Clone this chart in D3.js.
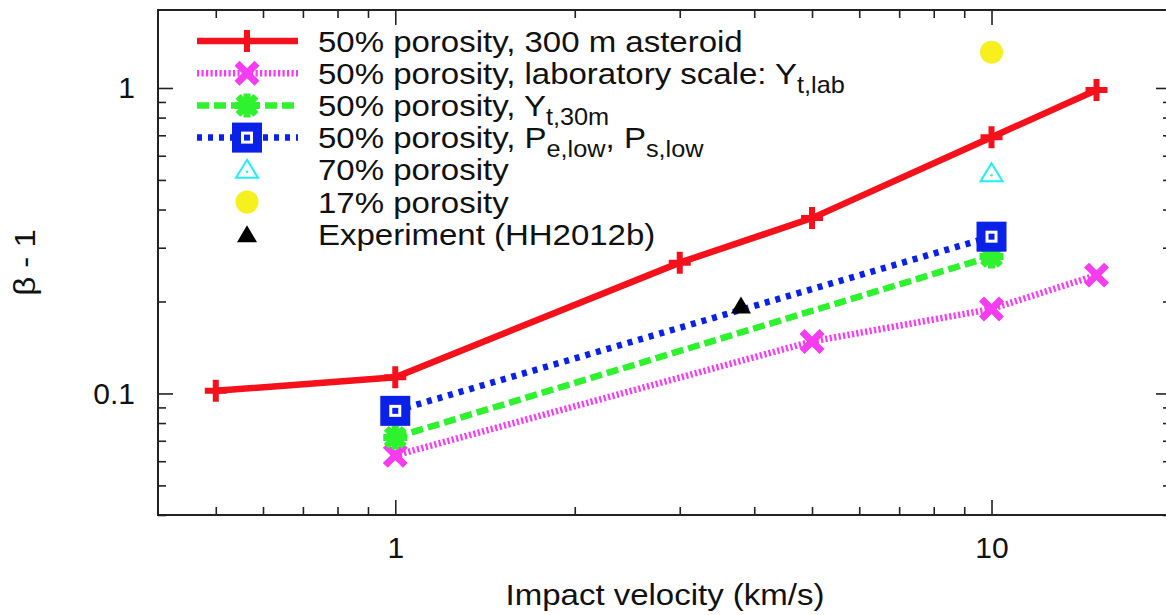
<html>
<head>
<meta charset="utf-8">
<style type="text/css">
  body { margin: 0; background: #fff; overflow: hidden; }
  text { font-family: "Liberation Sans", Arial, sans-serif; fill: #111; }
</style>
</head>
<body>
<script src="https://cdn.jsdelivr.net/npm/d3@7"></script>
<script>
// data
var velAsteroid = [0.5, 1, 3, 5, 10, 15];
var betaAsteroid = [0.102, 0.113, 0.268, 0.375, 0.69, 0.985];
var velLab = [1, 5, 10, 15];
var betaLab = [0.0627, 0.148, 0.189, 0.244];
var velY30 = [1, 10];
var betaY30 = [0.0718, 0.281];
var velPlow = [1, 10];
var betaPlow = [0.0877, 0.326];
var vel70 = [10], beta70 = [0.526];
var vel17 = [10], beta17 = [1.31];
var velExp = [3.8], betaExp = [0.194];

var xMajor = [1, 10];
var xMinor = [0.5, 0.6, 0.7, 0.8, 0.9, 2, 3, 4, 5, 6, 7, 8, 9, 20];
var yMajor = [0.1, 1];
var yMinor = [0.04, 0.05, 0.06, 0.07, 0.08, 0.09, 0.2, 0.3, 0.4, 0.5, 0.6, 0.7, 0.8, 0.9];

var W = 1166, H = 615;
var pL = 158, pR = 1171, pT = 10, pB = 515;
var stretch = 1.1; // the original lettering is a bit wider than Liberation Sans

var svg = d3.select("body").append("svg").attr("width", W).attr("height", H);

var x = d3.scaleLog().domain([0.4, 20]).range([pL, pR]);
var y = d3.scaleLog().domain([0.04, 1.8]).range([pB, pT]);

// ticks on all four sides, pointing inwards
function ticks(axis, vals, size, tx, ty, fmt, pad) {
    var g = svg.append("g").attr("transform", "translate(" + tx + "," + ty + ")")
        .call(axis.tickValues(vals).tickSize(-size).tickSizeOuter(0).tickPadding(pad || 0)
            .tickFormat(fmt || function() { return ""; }));
    g.select(".domain").remove();
    g.selectAll("line").attr("stroke", "#222").attr("stroke-width", 1.6);
    g.selectAll("text").attr("font-size", "30px").attr("fill", "#111").attr("font-family", null);
    return g;
}
var fmtNum = function(d) { return d3.format("~g")(d); };
ticks(d3.axisBottom(x), xMajor, 15, 0, pB, fmtNum, 22);
ticks(d3.axisBottom(x), xMinor, 8, 0, pB);
ticks(d3.axisTop(x), xMajor, 15, 0, pT);
ticks(d3.axisTop(x), xMinor, 8, 0, pT);
ticks(d3.axisLeft(y), yMajor, 15, pL, 0, fmtNum, 23);
ticks(d3.axisLeft(y), yMinor, 8, pL, 0);
ticks(d3.axisRight(y), yMajor, 15, pR, 0);
ticks(d3.axisRight(y), yMinor, 8, pR, 0);

svg.append("rect").attr("x", pL).attr("y", pT)
    .attr("width", pR - pL).attr("height", pB - pT)
    .attr("fill", "none").attr("stroke", "#222").attr("stroke-width", 2);

// axis titles
svg.append("text").attr("transform", "translate(665,605) scale(" + stretch + ",1)")
    .attr("text-anchor", "middle").attr("font-size", "30px").text("Impact velocity (km/s)");
svg.append("text").attr("transform", "translate(35," + (pT + pB) / 2 + ") rotate(-90) scale(" + stretch + ",1)")
    .attr("text-anchor", "middle").attr("font-size", "30px").text("β - 1");

// markers
function marker(g, kind, cx, cy) {
    if (kind == "plus") {
        g.append("path").attr("d", "M" + (cx - 11) + "," + cy + "H" + (cx + 11) + "M" + cx + "," + (cy - 11) + "V" + (cy + 11))
            .attr("stroke", "#f5111c").attr("stroke-width", 6).attr("fill", "none");
    } else if (kind == "cross") {
        g.append("path").attr("d", "M" + (cx - 10) + "," + (cy - 10) + "L" + (cx + 10) + "," + (cy + 10) + "M" + (cx - 10) + "," + (cy + 10) + "L" + (cx + 10) + "," + (cy - 10))
            .attr("stroke", "#f53cf0").attr("stroke-width", 7).attr("fill", "none");
    } else if (kind == "star") {
        g.append("path").attr("d", "M" + (cx - 12) + "," + cy + "H" + (cx + 12) + "M" + cx + "," + (cy - 12) + "V" + (cy + 12)
            + "M" + (cx - 9) + "," + (cy - 9) + "L" + (cx + 9) + "," + (cy + 9) + "M" + (cx - 9) + "," + (cy + 9) + "L" + (cx + 9) + "," + (cy - 9))
            .attr("stroke", "#2ef22e").attr("stroke-width", 7).attr("fill", "none");
    } else if (kind == "box") {
        g.append("rect").attr("x", cx - 15).attr("y", cy - 15).attr("width", 30).attr("height", 30).attr("fill", "#0a22e8");
        g.append("rect").attr("x", cx - 6).attr("y", cy - 6).attr("width", 12).attr("height", 12).attr("fill", "#fff");
        g.append("rect").attr("x", cx - 3).attr("y", cy - 3).attr("width", 6).attr("height", 6).attr("fill", "#0a22e8");
    } else if (kind == "triOpen") {
        g.append("path").attr("d", "M" + cx + "," + (cy - 10) + "L" + (cx + 11) + "," + (cy + 8) + "L" + (cx - 11) + "," + (cy + 8) + "Z")
            .attr("stroke", "#1ff0f5").attr("stroke-width", 2).attr("fill", "none");
        g.append("circle").attr("cx", cx).attr("cy", cy + 2).attr("r", 1.2).attr("fill", "#1ff0f5");
    } else if (kind == "circle") {
        g.append("circle").attr("cx", cx).attr("cy", cy).attr("r", 11.5).attr("fill", "#f5f01e");
    } else if (kind == "triFill") {
        g.append("path").attr("d", "M" + cx + "," + (cy - 9) + "L" + (cx + 10) + "," + (cy + 8) + "L" + (cx - 10) + "," + (cy + 8) + "Z")
            .attr("fill", "#000");
    }
}

var series = [
    { xs: velAsteroid, ys: betaAsteroid, color: "#f5111c", dash: null, mark: "plus", line: true },
    { xs: velLab, ys: betaLab, color: "#f53cf0", dash: "2.2,2.3", mark: "cross", line: true },
    { xs: velY30, ys: betaY30, color: "#2ef22e", dash: "12,5", mark: "star", line: true },
    { xs: velPlow, ys: betaPlow, color: "#0a22e8", dash: "5,6", mark: "box", line: true },
    { xs: vel70, ys: beta70, mark: "triOpen", line: false },
    { xs: vel17, ys: beta17, mark: "circle", line: false },
    { xs: velExp, ys: betaExp, mark: "triFill", line: false }
];

var line = d3.line().x(function(d) { return x(d[0]); }).y(function(d) { return y(d[1]); });

series.forEach(function(s) {
    var g = svg.append("g");
    var pts = d3.zip(s.xs, s.ys);
    if (s.line) {
        g.append("path").attr("d", line(pts)).attr("fill", "none")
            .attr("stroke", s.color).attr("stroke-width", 6.5)
            .attr("stroke-dasharray", s.dash);
    }
    pts.forEach(function(p) { marker(g, s.mark, x(p[0]), y(p[1])); });
});

// legend
var legendLabels = [
    [["50% porosity, 300 m asteroid"]],
    [["50% porosity, laboratory scale: Y"], ["t,lab", "sub"]],
    [["50% porosity, Y"], ["t,30m", "sub"]],
    [["50% porosity, P"], ["e,low", "sub"], [", P"], ["s,low", "sub"]],
    [["70% porosity"]],
    [["17% porosity"]],
    [["Experiment (HH2012b)"]]
];

legendLabels.forEach(function(lab, i) {
    var s = series[i];
    var cy = 41 + i * 32.2;
    var g = svg.append("g");
    if (s.line) {
        g.append("line").attr("x1", 197).attr("x2", 298).attr("y1", cy).attr("y2", cy)
            .attr("stroke", s.color).attr("stroke-width", 6.5).attr("stroke-dasharray", s.dash);
    }
    marker(g, s.mark, 247, cy);
    var t = g.append("text")
        .attr("transform", "translate(318," + (cy + 10.5) + ") scale(" + stretch + ",1)")
        .attr("font-size", "30px");
    var shifted = false;
    lab.forEach(function(part) {
        var sp = t.append("tspan").text(part[0]);
        if (part[1] == "sub") {
            sp.attr("font-size", "23px").attr("dy", 9);
            shifted = true;
        } else if (shifted) {
            sp.attr("dy", -9);
            shifted = false;
        }
    });
});
</script>
</body>
</html>
